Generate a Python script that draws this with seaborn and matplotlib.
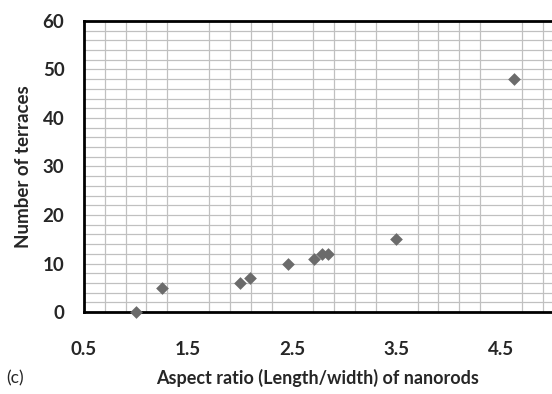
import numpy as np
import pandas as pd
import matplotlib
matplotlib.use("Agg")
import matplotlib.pyplot as plt
import seaborn as sns
from matplotlib.ticker import MultipleLocator, FixedLocator

# Donnees
aspect_ratio = [1.0, 1.25, 2.0, 2.09, 2.46, 2.71, 2.78, 2.84, 3.49, 4.63]
n_terraces = [0, 5, 6, 7, 10, 11, 12, 12, 15, 48]
x_ticks = [0.5, 1.5, 2.5, 3.5, 4.5]
y_ticks = [0, 10, 20, 30, 40, 50, 60]

df = pd.DataFrame({"ratio": aspect_ratio, "terraces": n_terraces})

sns.set_style("white")
plt.rcParams["font.family"] = ["Lato", "DejaVu Sans"]

fig = plt.figure(figsize=(5.52, 3.94), dpi=100)
ax = fig.add_axes([0.152, 0.208, 0.848, 0.739])

sns.scatterplot(data=df, x="ratio", y="terraces", marker="D", s=42,
                color="#6b6b6b", edgecolor="#6b6b6b", linewidth=0, ax=ax,
                zorder=3, clip_on=False)

ax.set_xlim(0.5, 4.99)
ax.set_ylim(0, 60)

# grille fine facon Excel (pas de 0.2 en x a partir de 0.5, pas de 2 en y)
ax.xaxis.set_major_locator(FixedLocator(x_ticks))
ax.yaxis.set_major_locator(FixedLocator(y_ticks))
ax.xaxis.set_minor_locator(MultipleLocator(0.2, offset=0.1))
ax.yaxis.set_minor_locator(MultipleLocator(2))
grid_kw = dict(color="#c0c0c0", linewidth=0.9)
ax.xaxis.grid(True, which="minor", **grid_kw)
ax.yaxis.grid(True, which="minor", **grid_kw)
ax.yaxis.grid(True, which="major", **grid_kw)
ax.set_axisbelow(True)

ax.set_xticklabels([str(v) for v in x_ticks])
ax.tick_params(axis="both", which="major", direction="out", length=5, width=2,
               color="black", labelsize=13.5)
ax.tick_params(axis="x", which="major", pad=16)
ax.tick_params(axis="y", which="major", pad=9)
ax.tick_params(which="minor", length=0)
for lab in ax.get_xticklabels() + ax.get_yticklabels():
    lab.set_fontweight("bold")

for side in ["left", "bottom", "top"]:
    ax.spines[side].set_color("black")
    ax.spines[side].set_linewidth(2)
ax.spines["right"].set_visible(False)

ax.set_xlabel("")
ax.set_ylabel("Number of terraces", fontsize=13.5, fontweight="bold", labelpad=8)

fig.text(0.575, 0.04, "Aspect ratio (Length/width) of nanorods", ha="center",
         va="center", fontsize=13, fontweight="bold")
fig.text(0.012, 0.04, "(c)", ha="left", va="center", fontsize=12.5)

fig.savefig("out.png", dpi=100)
